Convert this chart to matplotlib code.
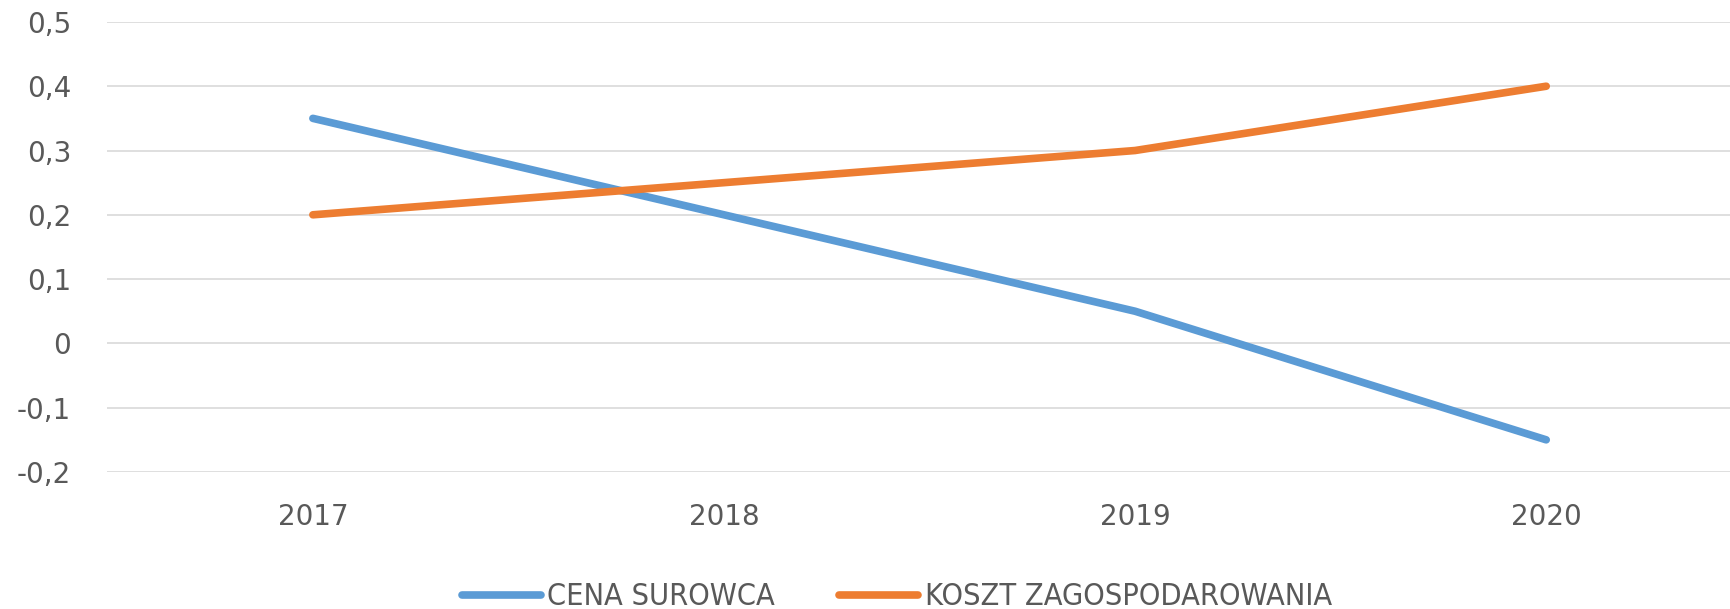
import matplotlib.pyplot as plt

# data
years = ["2017", "2018", "2019", "2020"]
cena_surowca = [0.35, 0.2, 0.05, -0.15]
koszt_zagospodarowania = [0.2, 0.25, 0.3, 0.4]
y_ticks = [-0.2, -0.1, 0, 0.1, 0.2, 0.3, 0.4, 0.5]
y_labels = ["-0,2", "-0,1", "0", "0,1", "0,2", "0,3", "0,4", "0,5"]

blue = "#5b9bd5"
orange = "#ed7d31"
grey = "#595959"

fig = plt.figure(figsize=(17.31, 6.09), dpi=100)
# the plot area runs a little past the right edge, as in the reference
ax = fig.add_axes([0.062, 0.225, 0.950, 0.739])

x = range(len(years))
ax.plot(x, cena_surowca, color=blue, lw=5.5, solid_capstyle="round",
        label="CENA SUROWCA")
ax.plot(x, koszt_zagospodarowania, color=orange, lw=5.5,
        solid_capstyle="round", label="KOSZT ZAGOSPODAROWANIA")

ax.set_xlim(-0.5, len(years) - 0.5)
ax.set_ylim(-0.2, 0.5)
ax.set_xticks(list(x))
ax.set_xticklabels(years)
ax.set_yticks(y_ticks)
ax.set_yticklabels(y_labels)
ax.tick_params(axis="both", length=0, labelsize=20, colors=grey)
ax.tick_params(axis="x", pad=22)
ax.tick_params(axis="y", pad=26)

ax.grid(axis="y", color="#d9d9d9", lw=1.2)
ax.set_axisbelow(True)
for s in ax.spines.values():
    s.set_visible(False)

leg = fig.legend(loc="center", bbox_to_anchor=(0.518, 0.02), ncol=2,
                 frameon=False, handlelength=2.6, handletextpad=0.2,
                 columnspacing=2.1,
                 prop={"family": "DejaVu Sans", "stretch": "condensed",
                       "size": 22})
for t in leg.get_texts():
    t.set_color(grey)

fig.savefig("out.png", dpi=100)
